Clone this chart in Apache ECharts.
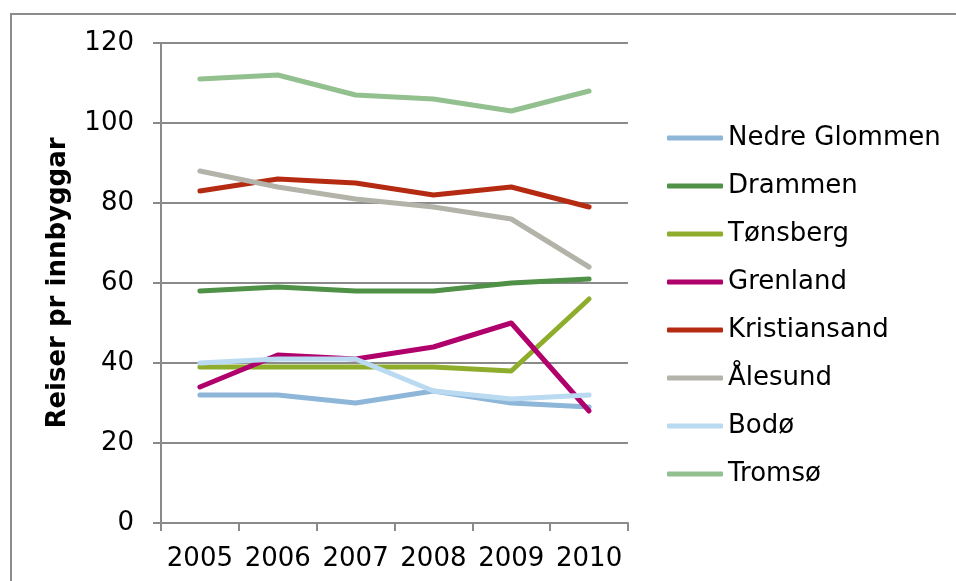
<!DOCTYPE html>
<html>
<head>
<meta charset="utf-8">
<script src="https://cdn.jsdelivr.net/npm/echarts@6/dist/echarts.min.js"></script>
<style>
  html, body { margin: 0; padding: 0; background: #fff; }
  #chart { width: 956px; height: 581px; }
</style>
</head>
<body>
<div id="chart"></div>
<script>
// Reiser pr innbyggar, 2005–2010
const years = ['2005', '2006', '2007', '2008', '2009', '2010'];

const nedreGlommen = [32, 32, 30, 33, 30, 29];
const drammen      = [58, 59, 58, 58, 60, 61];
const tonsberg     = [39, 39, 39, 39, 38, 56];
const grenland     = [34, 42, 41, 44, 50, 28];
const kristiansand = [83, 86, 85, 82, 84, 79];
const alesund      = [88, 84, 81, 79, 76, 64];
const bodo         = [40, 41, 41, 33, 31, 32];
const tromso       = [111, 112, 107, 106, 103, 108];

const seriesNames = ['Nedre Glommen', 'Drammen', 'Tønsberg', 'Grenland', 'Kristiansand', 'Ålesund', 'Bodø', 'Tromsø'];
const seriesData  = [nedreGlommen, drammen, tonsberg, grenland, kristiansand, alesund, bodo, tromso];
const seriesColors = ['#8db6d8', '#4f9147', '#8fad2d', '#b0006c', '#b42b12', '#b3b3a9', '#badaf2', '#93c08f'];

const yTicks = { min: 0, max: 120, interval: 20 };

const font = 'DejaVu Sans, Verdana, sans-serif';
const axisGrey = '#8a8a8a';

const chart = echarts.init(document.getElementById('chart'), null, { renderer: 'canvas' });

chart.setOption({
  animation: false,
  backgroundColor: '#ffffff',
  graphic: [{
    type: 'rect',
    shape: { x: 11, y: 14, width: 1200, height: 1200 },
    style: { fill: 'none', stroke: '#8c8c8c', lineWidth: 2 },
    silent: true
  }],
  grid: { left: 161, right: 956 - 628, top: 43, bottom: 581 - 523, containLabel: false },
  legend: {
    orient: 'vertical',
    left: 662,
    top: 118,
    icon: 'roundRect',
    itemWidth: 56,
    itemHeight: 5,
    itemGap: 18,
    textStyle: { fontFamily: font, fontSize: 26, color: '#000', lineHeight: 30 },
    data: seriesNames
  },
  xAxis: {
    type: 'category',
    data: years,
    boundaryGap: true,
    axisLine: { lineStyle: { color: axisGrey, width: 2 } },
    axisTick: { show: true, length: 8, alignWithLabel: false, lineStyle: { color: axisGrey, width: 2 } },
    axisLabel: { interval: 0, fontFamily: font, fontSize: 26, color: '#000', margin: 23 },
    splitLine: { show: false }
  },
  yAxis: {
    type: 'value',
    min: yTicks.min,
    max: yTicks.max,
    interval: yTicks.interval,
    name: 'Reiser pr innbyggar',
    nameLocation: 'middle',
    nameRotate: 90,
    nameGap: 90,
    nameTextStyle: { fontFamily: font, fontSize: 26, fontWeight: 'bold', color: '#000' },
    axisLine: { show: true, lineStyle: { color: axisGrey, width: 2 } },
    axisTick: { show: true, length: 8, lineStyle: { color: axisGrey, width: 2 } },
    axisLabel: { fontFamily: font, fontSize: 26, color: '#000', margin: 27 },
    splitLine: { show: true, lineStyle: { color: axisGrey, width: 2 } }
  },
  series: seriesNames.map((name, i) => ({
    name: name,
    type: 'line',
    data: seriesData[i],
    symbol: 'none',
    color: seriesColors[i],
    lineStyle: { width: 5, color: seriesColors[i], cap: 'round', join: 'round' }
  }))
});
</script>
</body>
</html>
